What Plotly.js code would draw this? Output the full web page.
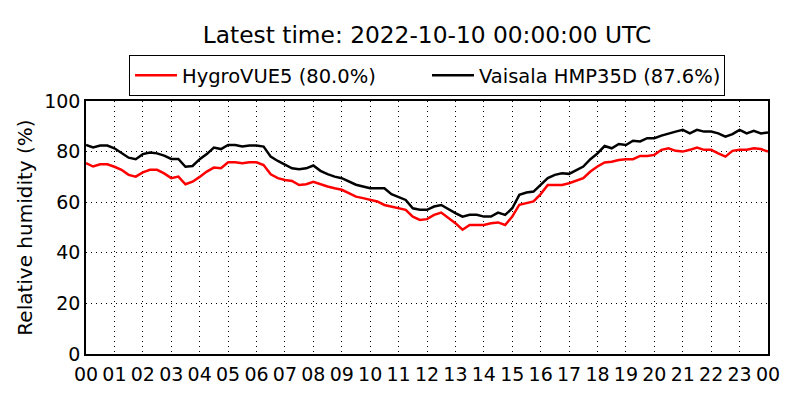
<!DOCTYPE html>
<html>
<head>
<meta charset="utf-8">
<script src="https://cdn.plot.ly/plotly-3.0.1.min.js"></script>
<style>
  html, body { margin: 0; padding: 0; background: #fff; }
  #chart { width: 800px; height: 400px; }
</style>
</head>
<body>
<div id="chart"></div>
<script>
// 15 minute samples
var hygrovue = [
    75.4, 74.1, 75.0, 75.0,   // 00
    74.0, 72.8, 70.8, 70.1,   // 01
    71.8, 72.8, 72.8, 71.4,   // 02
    69.5, 70.1, 67.1, 68.1,   // 03
    70.0, 72.1, 73.7, 73.4,   // 04
    75.8, 75.8, 75.4, 75.8,   // 05
    75.8, 74.7, 71.0, 69.5,   // 06
    68.8, 68.4, 66.8, 67.1,   // 07
    68.1, 67.1, 66.2, 65.5,   // 08
    64.9, 63.6, 62.2, 61.6,   // 09
    60.9, 60.3, 58.9, 58.3,   // 10
    57.6, 57.0, 54.3, 53.0,   // 11
    53.3, 55.0, 55.9, 53.7,   // 12
    51.7, 49.1, 51.0, 51.0,   // 13
    51.0, 51.7, 52.0, 51.0,   // 14
    54.3, 59.0, 59.6, 60.3,   // 15
    63.2, 66.8, 66.8, 66.8,   // 16
    67.5, 68.5, 69.5, 72.1,   // 17
    74.1, 75.7, 76.0, 76.7,   // 18
    77.0, 77.0, 78.3, 78.3,   // 19
    78.7, 80.7, 81.3, 80.3,   // 20
    80.0, 80.7, 81.6, 80.7,   // 21
    80.7, 79.3, 78.0, 80.3,   // 22
    80.7, 80.7, 81.3, 81.0,   // 23
    80.0
]
var vaisala = [
    82.6, 81.6, 82.4, 82.4,
    81.3, 79.3, 77.6, 77.0,
    79.0, 79.6, 79.3, 78.4,
    77.1, 77.1, 74.0, 74.3,
    77.0, 79.0, 81.6, 81.0,
    82.6, 82.6, 82.0, 82.4,
    82.4, 82.0, 78.0, 76.3,
    75.0, 73.4, 73.0, 73.4,
    74.5, 72.4, 71.1, 70.1,
    69.5, 68.2, 66.9, 66.2,
    65.5, 65.5, 65.5, 63.2,
    62.2, 60.9, 57.6, 57.0,
    57.0, 58.3, 58.9, 57.2,
    55.7, 54.3, 55.0, 55.0,
    54.3, 54.3, 55.9, 55.0,
    57.6, 62.9, 63.8, 64.2,
    66.9, 69.5, 70.8, 71.4,
    71.2, 72.8, 74.1, 77.0,
    79.3, 82.2, 81.3, 83.0,
    82.6, 84.3, 84.0, 85.3,
    85.3, 86.3, 87.2, 87.9,
    88.6, 87.2, 88.6, 87.9,
    87.9, 87.2, 85.9, 86.9,
    88.6, 87.2, 88.2, 87.2,
    87.6
]
var hourTicks = [], hourLabels = []
for (var h = 0; h <= 24; h++) {
    hourTicks.push(h)
    hourLabels.push(('0' + (h % 24)).slice(-2))
}
var hours = []
for (var i = 0; i < hygrovue.length; i++) hours.push(i / 4)

var fnt = 'DejaVu Sans, sans-serif'

var traces = [
    {x: hours, y: hygrovue, type: 'scatter', mode: 'lines',
     name: 'HygroVUE5 (80.0%)', line: {color: '#ff0000', width: 2.5}},
    {x: hours, y: vaisala, type: 'scatter', mode: 'lines',
     name: 'Vaisala HMP35D (87.6%)', line: {color: '#000000', width: 2.5}}
]

var layout = {
    width: 800, height: 400,
    paper_bgcolor: '#fff', plot_bgcolor: '#fff',
    margin: {l: 86, r: 32, t: 101, b: 46},
    font: {family: fnt, size: 19, color: '#000'},
    title: {text: 'Latest time: 2022-10-10 00:00:00 UTC', font: {size: 23.3},
            x: 0.5, xref: 'paper', xanchor: 'center', y: 0.912, yref: 'container', yanchor: 'middle'},
    showlegend: true,
    legend: {orientation: 'h', x: 0.5, xanchor: 'center', y: 1.182, yanchor: 'top',
             bordercolor: '#000', borderwidth: 1, font: {size: 19.5},
             itemwidth: 42, entrywidth: 240, entrywidthmode: 'pixels'},
    xaxis: {
        range: [0, 24], tickvals: hourTicks, ticktext: hourLabels,
        showgrid: true, gridcolor: '#000', griddash: '1px,4px', gridwidth: 1,
        showline: true, linecolor: '#000', linewidth: 1.5, mirror: true,
        ticks: '', zeroline: false, tickfont: {size: 19}, ticklabelstandoff: 2
    },
    yaxis: {
        range: [0, 100], dtick: 20,
        showgrid: true, gridcolor: '#000', griddash: '1px,4px', gridwidth: 1,
        showline: true, linecolor: '#000', linewidth: 1.5, mirror: true,
        ticks: '', zeroline: false, tickfont: {size: 19},
        title: {text: 'Relative humidity (%)', font: {size: 20}, standoff: 6}
    }
}

Plotly.newPlot('chart', traces, layout, {displayModeBar: false})
</script>
</body>
</html>
